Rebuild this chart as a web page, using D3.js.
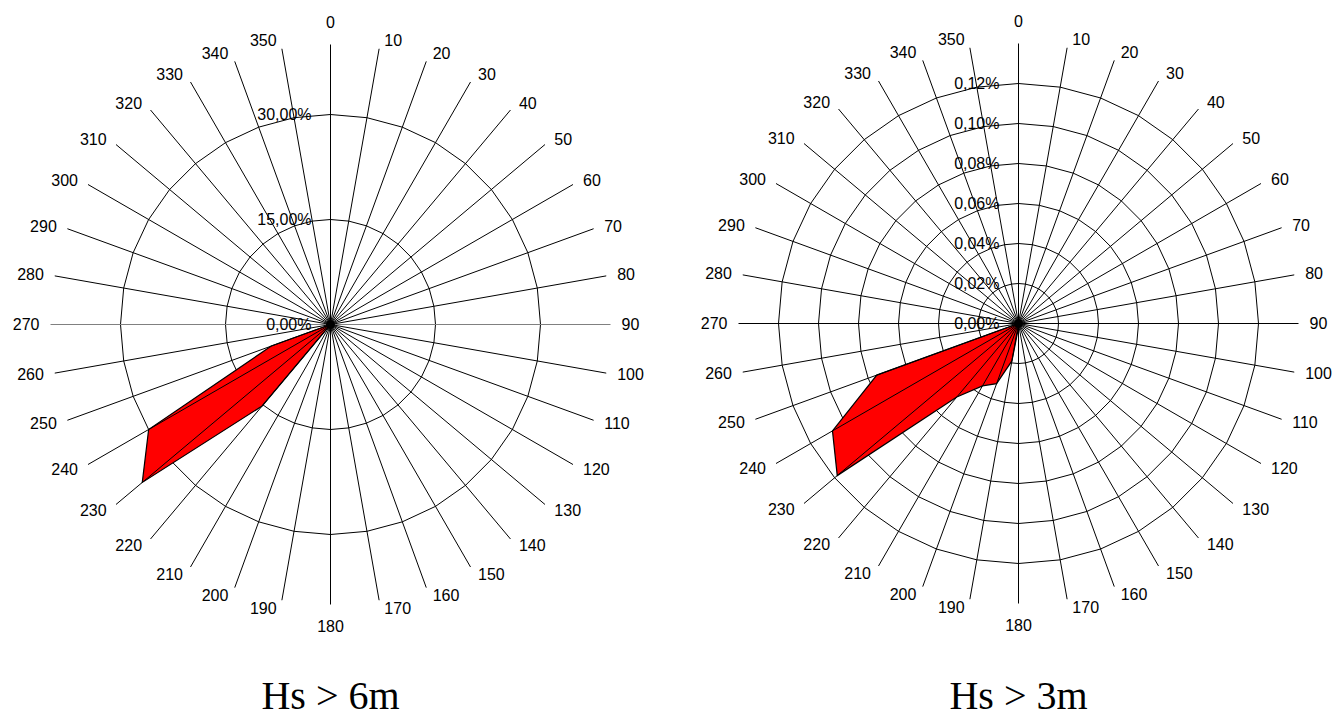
<!DOCTYPE html>
<html>
<head>
<meta charset="utf-8">
<script src="https://cdn.jsdelivr.net/npm/d3@7"></script>
<style>
  html, body { margin: 0; padding: 0; background: #fff; }
  svg { display: block; }
</style>
</head>
<body>
<svg id="chart" width="1335" height="728"></svg>
<script>
// ---- data ----
const directions = [0,10,20,30,40,50,60,70,80,90,100,110,120,130,140,150,160,170,
                    180,190,200,210,220,230,240,250,260,270,280,290,300,310,320,330,340,350];
// Hs > 6m (percent)
const hs6Values = [0,0,0,0,0,0,0,0,0,0,0,0,0,0,0,0,0,0,
                   0,0,0,0,15.2,35.1,30.0,9.0,0,0,0,0,0,0,0,0,0,0];
// Hs > 3m (percent)
const hs3Values = [0,0,0,0,0,0,0,0,0,0,0,0,0,0,0,0,0,0,
                   0.002,0.019,0.032,0.036,0.048,0.1183,0.1074,0.0754,0,0,0,0,0,0,0,0,0,0];
const hs6Ticks = [0, 15, 30];
const hs6Max = 40;
const hs3Ticks = [0, 0.02, 0.04, 0.06, 0.08, 0.10, 0.12];
const hs3Max = 0.14;
const titles = ["Hs > 6m", "Hs > 3m"];

// ---- drawing ----
const svg = d3.select("#chart");
const locale = d3.formatLocale({decimal: ",", thousands: ".", grouping: [3], currency: ["", ""]});
const pctFmt = v => locale.format(".2f")(v) + "%";

function drawRadar(cfg) {
  const g = svg.append("g").attr("transform", `translate(${cfg.cx},${cfg.cy})`);
  const r = d3.scaleLinear().domain([0, cfg.max]).range([0, 280]);
  const a = d3.scaleLinear().domain([0, 360]).range([0, 2 * Math.PI]);
  const pt = (deg, v) => [Math.sin(a(deg)) * r(v), -Math.cos(a(deg)) * r(v)];

  // ring gridlines (polygons)
  cfg.ticks.filter(t => t > 0).forEach(t => {
    g.append("path")
      .attr("d", d3.line()(directions.map(d => pt(d, t))) + "Z")
      .attr("fill", "none").attr("stroke", "#000").attr("stroke-width", 1);
  });

  // series
  const poly = directions.map((d, i) => pt(d, cfg.values[i]));
  g.append("path")
    .attr("d", d3.line()(poly) + "Z")
    .attr("fill", "#ff0000").attr("stroke", "none");

  // spokes
  directions.forEach(d => {
    const e = pt(d, cfg.max);
    g.append("line")
      .attr("x1", 0).attr("y1", 0).attr("x2", e[0]).attr("y2", e[1])
      .attr("stroke", (cfg.grayHorizontal && (d === 90 || d === 270)) ? "#808080" : "#000")
      .attr("stroke-width", 1);
  });

  // series outline
  g.append("path")
    .attr("d", d3.line()(poly) + "Z")
    .attr("fill", "none").attr("stroke", "#000").attr("stroke-width", 1.2)
    .attr("stroke-linejoin", "miter");

  // hub where spokes converge
  g.append("circle").attr("r", 4.5).attr("fill", "#000");

  // category labels
  directions.forEach(d => {
    const e = pt(d, cfg.max);
    const s = Math.sin(a(d)), c = Math.cos(a(d));
    let x, y, anchor;
    if (d === 0) { x = e[0]; y = e[1] - 22; anchor = "middle"; }
    else if (d === 180) { x = e[0]; y = e[1] + 22; anchor = "middle"; }
    else {
      anchor = s > 0 ? "start" : "end";
      x = e[0] + Math.sign(s) * (4 + 7 * Math.abs(s));
      y = e[1] - 8.5 * c;
    }
    g.append("text")
      .attr("x", x).attr("y", y).attr("dy", "0.36em")
      .attr("text-anchor", anchor)
      .attr("font-family", "'Liberation Sans', Arial, sans-serif")
      .attr("font-size", 16).attr("fill", "#000")
      .text(d);
  });

  // value labels
  cfg.ticks.forEach(t => {
    g.append("text")
      .attr("x", -19).attr("y", -r(t)).attr("dy", "0.36em")
      .attr("text-anchor", "end")
      .attr("font-family", "'Liberation Sans', Arial, sans-serif")
      .attr("font-size", 16).attr("fill", "#000")
      .text(pctFmt(t));
  });

  // title
  svg.append("text")
    .attr("x", cfg.cx).attr("y", 709)
    .attr("text-anchor", "middle")
    .attr("font-family", "'Liberation Serif', 'Times New Roman', serif")
    .attr("font-size", 40).attr("fill", "#000")
    .text(cfg.title);
}

drawRadar({cx: 330.5, cy: 324.5, max: hs6Max, ticks: hs6Ticks, values: hs6Values, title: titles[0], grayHorizontal: true});
drawRadar({cx: 1018.5, cy: 323.5, max: hs3Max, ticks: hs3Ticks, values: hs3Values, title: titles[1], grayHorizontal: false});
</script>
</body>
</html>
